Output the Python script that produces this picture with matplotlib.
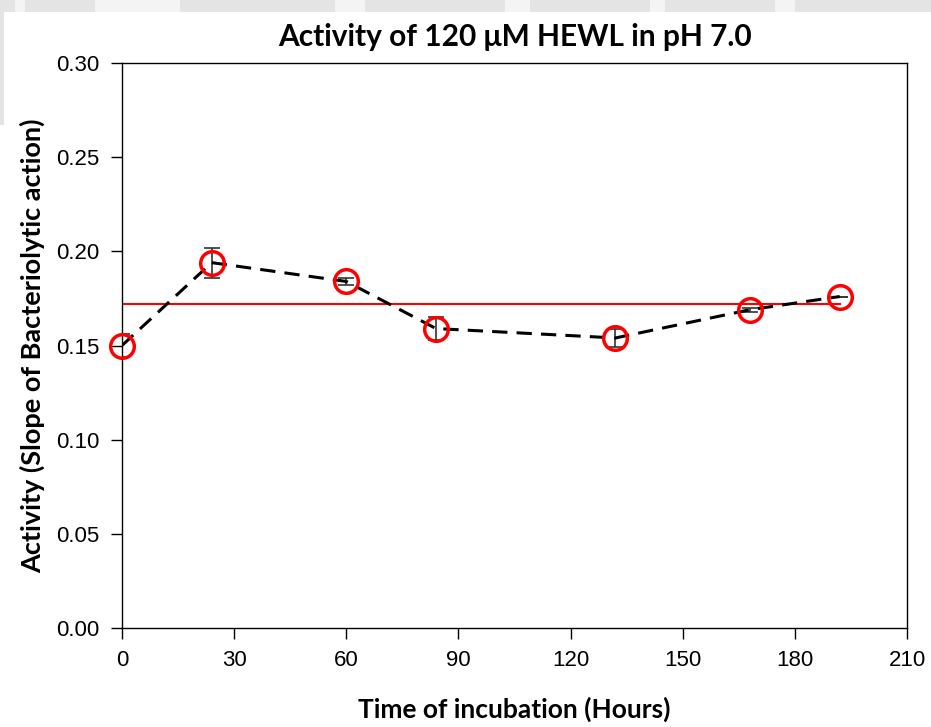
import matplotlib.pyplot as plt
from matplotlib.patches import Rectangle

# incubation time (h) and activity (slope of bacteriolytic action)
hours = [0, 24, 60, 84, 132, 168, 192]
activity = [0.150, 0.194, 0.184, 0.159, 0.154, 0.169, 0.176]
activity_err = [0.006, 0.008, 0.002, 0.006, 0.005, 0.001, 0.0]
mean_level = 0.172

xticks = [0, 30, 60, 90, 120, 150, 180, 210]
yticks = [0.00, 0.05, 0.10, 0.15, 0.20, 0.25, 0.30]

tick_font = 'Liberation Sans'
label_font = 'Lato'

W, H = 931, 727
fig = plt.figure(figsize=(W / 100, H / 100), dpi=100)


def px_rect(x0, y0, x1, y1, color):
    # rectangle given in pixel coords measured from the top-left corner
    fig.add_artist(Rectangle((x0 / W, 1 - y1 / H), (x1 - x0) / W, (y1 - y0) / H,
                             transform=fig.transFigure, color=color, lw=0, zorder=0))


# faint grey page edge along the top and left
grey = '#e4e4e4'
px_rect(0, 0, W, 12, grey)
for a, b in [(15, 25), (95, 180), (335, 365), (505, 530), (650, 665), (775, 795)]:
    px_rect(a, 0, b, 12, '#f4f4f4')
px_rect(0, 12, 4, 125, grey)

ax = fig.add_axes([122 / W, 1 - 628 / H, 785 / W, 565 / H])

ax.errorbar(hours, activity, yerr=activity_err, fmt='none', ecolor='#333333',
            elinewidth=1.2, capsize=6, capthick=1.2, zorder=2)
ax.plot(hours, activity, color='black', lw=2.2, dashes=(5, 3), zorder=3)
ax.plot(hours, activity, 'o', ms=17, mfc='none', mec='red', mew=2.5, zorder=4,
        clip_on=False)
ax.plot([hours[0], hours[-1]], [mean_level, mean_level], color='red', lw=1.5, zorder=1)

ax.set_xlim(0, 210)
ax.set_ylim(0, 0.30)
ax.set_xticks(xticks)
ax.set_yticks(yticks)
ax.set_xticklabels([str(t) for t in xticks], fontfamily=tick_font, fontsize=16)
ax.set_yticklabels(['%.2f' % t for t in yticks], fontfamily=tick_font, fontsize=16)
ax.tick_params(direction='out', length=8, width=1, pad=8)
for s in ax.spines.values():
    s.set_linewidth(1)

ax.set_title('Activity of 120 \u03bcM HEWL in pH 7.0', fontfamily=label_font,
             fontweight='bold', fontsize=21.5, pad=12)
ax.set_xlabel('Time of incubation (Hours)', fontfamily=label_font,
              fontweight='bold', fontsize=19, labelpad=18)
ax.set_ylabel('Activity (Slope of Bacteriolytic action)', fontfamily=label_font,
              fontweight='bold', fontsize=19.5, labelpad=8)

fig.savefig('out.png', dpi=100)
